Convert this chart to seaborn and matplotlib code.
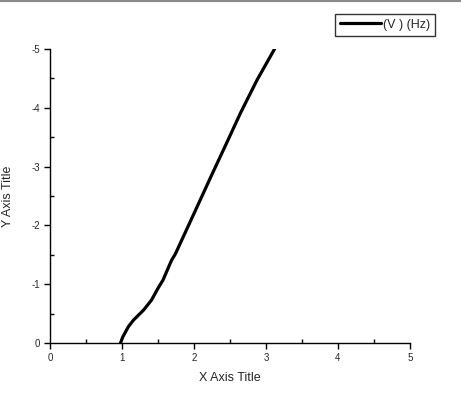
import matplotlib

matplotlib.use("Agg")
import matplotlib.pyplot as plt
import pandas as pd
import seaborn as sns
from matplotlib.ticker import MultipleLocator

# values
x_vals = [0.98, 1.01, 1.09, 1.16, 1.30, 1.41, 1.50, 1.57, 1.64, 1.69, 1.74,
          2.00, 2.24, 2.45, 2.65, 2.88, 3.12]
y_vals = [0.00, -0.10, -0.28, -0.39, -0.56, -0.73, -0.93, -1.07, -1.27, -1.41, -1.51,
          -2.20, -2.84, -3.39, -3.92, -4.48, -5.00]
series_label = "(V ) (Hz)"
x_ticks = [0, 1, 2, 3, 4, 5]
y_ticks = [0, -1, -2, -3, -4, -5]

df = pd.DataFrame({"x": x_vals, "y": y_vals})

sns.set_style("ticks")
plt.rcParams["font.family"] = ["Liberation Sans", "DejaVu Sans"]

fig = plt.figure(figsize=(4.61, 4.0), dpi=100)
ax = fig.add_axes([0.1085, 0.1425, 0.7805, 0.735])

sns.lineplot(data=df, x="x", y="y", sort=False, color="black", linewidth=2.3,
             label=series_label, ax=ax)

ax.set_xlim(0, 5)
ax.set_ylim(0, -5)
ax.set_xticks(x_ticks)
ax.set_yticks(y_ticks)
ax.set_xticklabels([str(t) for t in x_ticks])
ax.set_yticklabels([str(t) for t in y_ticks])
ax.xaxis.set_minor_locator(MultipleLocator(0.5))
ax.yaxis.set_minor_locator(MultipleLocator(0.5))
ax.tick_params(which="major", direction="out", length=4, width=1, labelsize=7,
               color="black", pad=3)
ax.tick_params(which="minor", direction="in", length=3, width=1, color="black")

for s in ["top", "right"]:
    ax.spines[s].set_visible(False)
for s in ["left", "bottom"]:
    ax.spines[s].set_color("black")
    ax.spines[s].set_linewidth(1)

ax.set_xlabel("X Axis Title", fontsize=9)
ax.set_ylabel("Y Axis Title", fontsize=9)
ax.xaxis.set_label_coords(0.5, -0.10)
ax.yaxis.set_label_coords(-0.10, 0.5)

ax.get_legend().remove()
handles, labels = ax.get_legend_handles_labels()
leg = fig.legend(handles, labels, loc="upper right", bbox_to_anchor=(0.944, 0.966),
                 frameon=True, fancybox=False, fontsize=9, handlelength=3.3,
                 handletextpad=0.15, borderpad=0.4, borderaxespad=0)
leg.get_frame().set_edgecolor("black")
leg.get_frame().set_linewidth(1)

# thin window border along the top
fig.add_artist(plt.Line2D([0, 1], [0.997, 0.997], color="#888888", linewidth=1.5,
                          transform=fig.transFigure))

fig.savefig("out.png", dpi=100)
plt.close(fig)
